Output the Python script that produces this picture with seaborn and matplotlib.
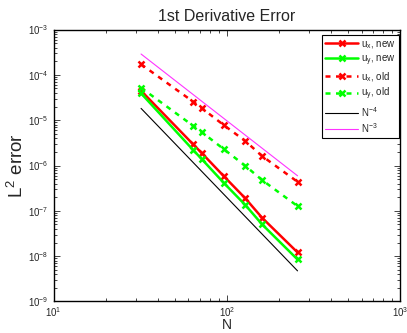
import numpy as np
import pandas as pd
import seaborn as sns
import matplotlib
matplotlib.use("Agg")
import matplotlib.pyplot as plt
from matplotlib.ticker import LogLocator

# grid sizes
N = [32, 64, 72, 96, 128, 160, 256]

# errors
ux_new = [4.46e-5, 2.92e-6, 1.85e-6, 5.83e-7, 1.88e-7, 7.0e-8, 1.21e-8]
uy_new = [3.91e-5, 2.19e-6, 1.36e-6, 4.15e-7, 1.34e-7, 5.0e-8, 8.45e-9]
ux_old = [1.71e-4, 2.55e-5, 1.82e-5, 7.8e-6, 3.46e-6, 1.61e-6, 4.37e-7]
uy_old = [5.19e-5, 7.5e-6, 5.38e-6, 2.30e-6, 9.8e-7, 4.76e-7, 1.27e-7]

# reference slopes, end points only
N_ref = [32, 256]
ref4 = [1.82e-5, 4.74e-9]
ref3 = [2.88e-4, 5.93e-7]

sns.set_theme(style="ticks")
plt.rcParams['font.family'] = ['Liberation Sans', 'DejaVu Sans']
plt.rcParams['mathtext.fontset'] = 'custom'
plt.rcParams['mathtext.rm'] = 'Liberation Sans'

fig = plt.figure(figsize=(4.07, 3.33), dpi=100)
ax = fig.add_axes([0.1315, 0.0946, 0.8515, 0.8168])

RED, GREEN = '#ff0000', '#00ff00'
dash = (0, (2, 2.2))

def series(y, color, label, ls='-'):
    # seaborn gives markers a white edge by default, 'x' needs the line colour
    sns.lineplot(x=N, y=y, color=color, lw=1.8, linestyle=ls, label=label, ax=ax,
                 marker='x', markersize=5, markeredgewidth=1.8, markeredgecolor=color)

series(ux_new, RED, r'$\mathregular{u_x}$, new')
series(uy_new, GREEN, r'$\mathregular{u_y}$, new')
series(ux_old, RED, r'$\mathregular{u_x}$, old', dash)
series(uy_old, GREEN, r'$\mathregular{u_y}$, old', dash)
sns.lineplot(x=N_ref, y=ref4, color='black', lw=0.8, label=r'$\mathregular{N^{-4}}$', ax=ax)
sns.lineplot(x=N_ref, y=ref3, color='#ff33ff', lw=0.8, label=r'$\mathregular{N^{-3}}$', ax=ax)

ax.set(xscale='log', yscale='log')
ax.set_xlim(10, 1000)
ax.set_ylim(1e-9, 1e-3)
ax.xaxis.set_major_locator(LogLocator(base=10, numticks=10))
ax.yaxis.set_major_locator(LogLocator(base=10, numticks=10))
ax.xaxis.set_minor_locator(LogLocator(base=10, subs=np.arange(2, 10), numticks=20))
ax.yaxis.set_minor_locator(LogLocator(base=10, subs=np.arange(2, 10), numticks=20))
ax.tick_params(which='both', direction='in', top=True, right=True, labelsize=7, width=0.6)
ax.tick_params(which='major', length=4)
ax.tick_params(which='minor', length=2)
ax.tick_params(axis='x', pad=2.5)
for s in ax.spines.values():
    s.set_linewidth(1.0)
    s.set_color('black')

ax.set_title('1st Derivative Error', fontsize=11.5, pad=6.3)
ax.set_xlabel('N', fontsize=10, va='top')
ax.xaxis.set_label_coords(0.5, -0.062)
ax.set_ylabel(r'$\mathregular{L^2}$ error', fontsize=13.5)
ax.yaxis.set_label_coords(-0.076, 0.5)

leg = ax.legend(loc='upper right', bbox_to_anchor=(0.997, 0.978), borderaxespad=0,
                fontsize=7, frameon=True, fancybox=False, edgecolor='black', framealpha=1,
                handlelength=3.4, labelspacing=0.25, borderpad=0.35, handletextpad=0.3)
leg.get_frame().set_linewidth(0.8)

fig.savefig('out.png', dpi=100)
